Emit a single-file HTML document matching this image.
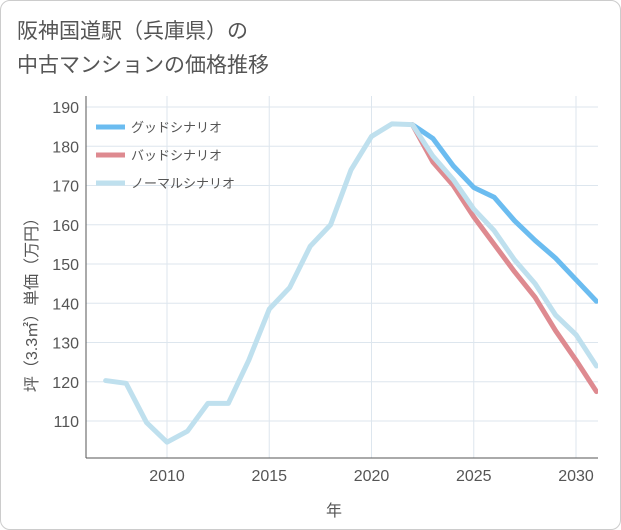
<!DOCTYPE html>
<html><head><meta charset="utf-8"><style>
body{margin:0;background:#fff;}
.wrap{position:relative;width:619px;height:528px;border:1px solid #ccc;border-radius:10px;overflow:hidden;background:#fff;font-family:"Liberation Sans","Noto Sans CJK JP",sans-serif;}
.title{position:absolute;left:16px;top:14px;font-size:21px;line-height:34px;color:#555;}
svg{position:absolute;left:0;top:0;}
</style></head><body>
<div class="wrap">
<div class="title">阪神国道駅（兵庫県）の<br>中古マンションの価格推移</div>
<svg id="chart" width="621" height="530"></svg>
</div>
<script>
const years=[2007,2008,2009,2010,2011,2012,2013,2014,2015,2016,2017,2018,2019,2020,2021,2022,2023,2024,2025,2026,2027,2028,2029,2030,2031];
const normalVals=[120.3,119.6,109.6,104.6,107.4,114.5,114.5,125.5,138.5,144,154.5,160,174,182.5,185.7,185.5,177.5,171.5,164,158.5,151,145,137,132,124];
const futureYears=[2022,2023,2024,2025,2026,2027,2028,2029,2030,2031];
const goodVals=[185.5,182,175,169.5,167,161,156,151.5,146,140.5];
const badVals=[185.5,176,170,162,155,148,141.5,133,125.5,117.5];
const yTicks=[110,120,130,140,150,160,170,180,190];
const xTicks=[2010,2015,2020,2025,2030];
const L=85,R=597,T=95,B=457;
const x=v=>166+(v-2010)*20.45;
const y=v=>106+(190-v)*3.925;
const ns="http://www.w3.org/2000/svg";
const svg=document.getElementById('chart');
function mk(t,a){const e=document.createElementNS(ns,t);for(const k in a)e.setAttribute(k,a[k]);svg.appendChild(e);return e;}
yTicks.forEach(v=>{const l=mk('line',{x1:L,x2:R,y1:y(v),y2:y(v),stroke:'#dde6ee'});

const t=mk('text',{x:78,y:y(v)+6,'text-anchor':'end','font-size':16,fill:'#555'});t.textContent=v;
});
xTicks.forEach(v=>{const l=mk('line',{x1:x(v),x2:x(v),y1:T,y2:B,stroke:'#dde6ee'});

const t=mk('text',{x:x(v),y:480,'text-anchor':'middle','font-size':16,fill:'#555'});t.textContent=v;
});
const ax=mk('line',{x1:L,x2:L,y1:T,y2:B,stroke:'#555'});
const bx=mk('line',{x1:L,x2:R,y1:B,y2:B,stroke:'#555'});
const xt=mk('text',{x:333,y:515,'text-anchor':'middle','font-size':16,fill:'#555'});xt.textContent='年';

const yt=mk('text',{x:0,y:0,'text-anchor':'middle','font-size':16,fill:'#555',transform:'translate(36,300) rotate(-90)'});yt.textContent='坪（3.3㎡）単価（万円）';

function line(xs,vs,c,name){const p=mk('polyline',{points:xs.map((v,i)=>x(v)+','+y(vs[i])).join(' '),fill:'none',stroke:c,'stroke-width':5,'stroke-linejoin':'round','stroke-linecap':'round'});
}
const cp=mk('clipPath',{id:'cp'});const cr=document.createElementNS(ns,'rect');cr.setAttribute('x',L);cr.setAttribute('y',T);cr.setAttribute('width',R-L);cr.setAttribute('height',B-T);cp.appendChild(cr);
line(futureYears,goodVals,'#6bbcf0','good-scenario-line');
line(futureYears,badVals,'#de8a90','bad-scenario-line');
line(years,normalVals,'#bfe0ee','normal-scenario-line');
svg.querySelectorAll('polyline').forEach(p=>p.setAttribute('clip-path','url(#cp)'));
const leg=[['グッドシナリオ','#6bbcf0'],['バッドシナリオ','#de8a90'],['ノーマルシナリオ','#bfe0ee']];
leg.forEach((d,i)=>{const yy=126+i*28;const l=mk('line',{x1:95,x2:124,y1:yy,y2:yy,stroke:d[1],'stroke-width':5});

const t=mk('text',{x:130,y:yy+5,'font-size':13,fill:'#555'});t.textContent=d[0];
});
</script>
</body></html>
